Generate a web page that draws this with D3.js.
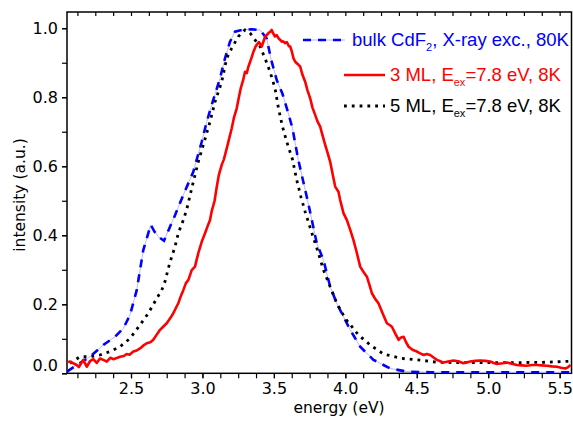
<!DOCTYPE html>
<html>
<head>
<meta charset="utf-8">
<script src="https://cdn.jsdelivr.net/npm/d3@7"></script>
<style>
  body { margin: 0; background: #fff; }
  .tick text { font-family: "DejaVu Sans", sans-serif; font-size: 16px; fill: #000; }
  .axistitle { font-family: "DejaVu Sans", sans-serif; font-size: 15.5px; fill: #000; }
  .legend { font-family: "Liberation Sans", Arial, sans-serif; font-size: 18.5px; }
</style>
</head>
<body>
<script>
// photoluminescence spectra, values

// bulk CdF2, X-ray excitation, 80K
var bulkE = [2.052, 2.12, 2.213, 2.306, 2.388, 2.446, 2.493, 2.54, 2.586, 2.621, 2.638, 2.665, 2.691, 2.731, 2.773, 2.808, 2.866, 2.936, 2.995, 3.03, 3.065, 3.123, 3.158, 3.193, 3.228, 3.275, 3.34, 3.403, 3.45, 3.48, 3.52, 3.56, 3.6, 3.63, 3.67, 3.742, 3.8, 3.847, 3.894, 3.94, 3.987, 4.034, 4.104, 4.197, 4.314, 4.43, 4.6, 4.8, 5.0, 5.2, 5.4, 5.58];
var bulkI = [0.005, 0.024, 0.048, 0.082, 0.106, 0.13, 0.169, 0.241, 0.357, 0.406, 0.43, 0.41, 0.396, 0.384, 0.425, 0.458, 0.517, 0.584, 0.671, 0.729, 0.778, 0.855, 0.913, 0.961, 0.99, 0.995, 0.997, 0.995, 0.97, 0.91, 0.85, 0.81, 0.755, 0.71, 0.62, 0.49, 0.377, 0.328, 0.251, 0.203, 0.164, 0.126, 0.077, 0.039, 0.014, 0.005, 0.003, 0.003, 0.003, 0.003, 0.003, 0.003];

// 3 ML, Eex = 7.8 eV, 8K
var ml3E = [2.06, 2.073, 2.12, 2.135, 2.166, 2.19, 2.213, 2.236, 2.26, 2.283, 2.31, 2.33, 2.355, 2.376, 2.40, 2.423, 2.45, 2.47, 2.49, 2.516, 2.54, 2.563, 2.585, 2.61, 2.635, 2.656, 2.68, 2.703, 2.725, 2.75, 2.775, 2.796, 2.815, 2.831, 2.85, 2.866, 2.885, 2.901, 2.925, 2.948, 2.96, 2.971, 2.995, 3.018, 3.035, 3.053, 3.065, 3.085, 3.1, 3.115, 3.135, 3.15, 3.17, 3.19, 3.205, 3.22, 3.24, 3.255, 3.268, 3.285, 3.298, 3.31, 3.322, 3.34, 3.357, 3.37, 3.38, 3.395, 3.415, 3.43, 3.438, 3.45, 3.462, 3.475, 3.485, 3.495, 3.508, 3.52, 3.532, 3.545, 3.555, 3.565, 3.578, 3.59, 3.605, 3.614, 3.626, 3.637, 3.649, 3.672, 3.684, 3.70, 3.719, 3.735, 3.754, 3.77, 3.789, 3.805, 3.824, 3.84, 3.859, 3.875, 3.894, 3.91, 3.929, 3.952, 3.964, 3.987, 4.011, 4.035, 4.057, 4.08, 4.104, 4.125, 4.151, 4.17, 4.186, 4.21, 4.232, 4.26, 4.291, 4.31, 4.326, 4.35, 4.373, 4.39, 4.408, 4.425, 4.443, 4.47, 4.501, 4.524, 4.548, 4.57, 4.594, 4.62, 4.641, 4.665, 4.687, 4.72, 4.757, 4.79, 4.827, 4.85, 4.874, 4.91, 4.944, 4.98, 5.014, 5.04, 5.061, 5.1, 5.131, 5.165, 5.201, 5.235, 5.271, 5.305, 5.341, 5.375, 5.411, 5.445, 5.481, 5.51, 5.54, 5.56, 5.577];
var ml3I = [0.032, 0.034, 0.024, 0.018, 0.039, 0.019, 0.035, 0.041, 0.03, 0.043, 0.038, 0.034, 0.045, 0.041, 0.044, 0.048, 0.05, 0.056, 0.054, 0.063, 0.066, 0.072, 0.08, 0.087, 0.09, 0.097, 0.112, 0.126, 0.135, 0.145, 0.16, 0.174, 0.19, 0.203, 0.225, 0.241, 0.262, 0.27, 0.299, 0.309, 0.33, 0.348, 0.381, 0.406, 0.425, 0.444, 0.47, 0.5, 0.54, 0.575, 0.604, 0.62, 0.652, 0.685, 0.71, 0.74, 0.768, 0.80, 0.826, 0.85, 0.874, 0.87, 0.889, 0.91, 0.932, 0.945, 0.952, 0.96, 0.947, 0.965, 0.976, 0.98, 0.986, 0.99, 0.995, 0.985, 0.976, 0.98, 0.971, 0.966, 0.961, 0.962, 0.957, 0.96, 0.948, 0.947, 0.932, 0.913, 0.903, 0.894, 0.889, 0.865, 0.845, 0.82, 0.797, 0.77, 0.749, 0.73, 0.715, 0.69, 0.662, 0.64, 0.613, 0.58, 0.541, 0.526, 0.502, 0.464, 0.444, 0.415, 0.386, 0.35, 0.309, 0.295, 0.28, 0.255, 0.232, 0.215, 0.203, 0.175, 0.145, 0.14, 0.135, 0.115, 0.097, 0.104, 0.106, 0.09, 0.077, 0.068, 0.063, 0.058, 0.053, 0.056, 0.053, 0.045, 0.039, 0.035, 0.031, 0.034, 0.037, 0.035, 0.029, 0.031, 0.034, 0.036, 0.037, 0.036, 0.034, 0.03, 0.027, 0.029, 0.031, 0.028, 0.024, 0.023, 0.022, 0.024, 0.024, 0.023, 0.022, 0.02, 0.019, 0.016, 0.014, 0.018, 0.024];

// 5 ML, Eex = 7.8 eV, 8K
var ml5E = [2.073, 2.143, 2.213, 2.283, 2.353, 2.423, 2.493, 2.563, 2.621, 2.68, 2.715, 2.738, 2.761, 2.785, 2.808, 2.831, 2.866, 2.89, 2.925, 2.971, 3.006, 3.053, 3.088, 3.135, 3.17, 3.205, 3.251, 3.298, 3.333, 3.368, 3.403, 3.438, 3.473, 3.508, 3.532, 3.56, 3.59, 3.63, 3.66, 3.69, 3.719, 3.766, 3.812, 3.847, 3.894, 3.94, 3.999, 4.046, 4.092, 4.174, 4.267, 4.396, 4.548, 4.641, 4.8, 5.0, 5.2, 5.4, 5.577];
var ml5I = [0.029, 0.048, 0.048, 0.053, 0.063, 0.077, 0.101, 0.14, 0.174, 0.217, 0.241, 0.266, 0.304, 0.338, 0.367, 0.406, 0.444, 0.475, 0.536, 0.613, 0.662, 0.729, 0.787, 0.845, 0.913, 0.942, 0.976, 0.995, 0.986, 0.966, 0.947, 0.913, 0.874, 0.826, 0.768, 0.715, 0.671, 0.62, 0.56, 0.51, 0.468, 0.406, 0.348, 0.299, 0.251, 0.203, 0.159, 0.135, 0.111, 0.082, 0.056, 0.043, 0.037, 0.032, 0.031, 0.031, 0.031, 0.032, 0.035];

var xTicks = [2.5, 3.0, 3.5, 4.0, 4.5, 5.0, 5.5];
var yTicks = [0.0, 0.2, 0.4, 0.6, 0.8, 1.0];

window.onload = function(){

    var w = 573, h = 421;
    var left = 67, right = 571.5, top = 12, bottom = 373.3;

    var x = d3.scaleLinear()
        .domain([2.052, 5.583])
        .range([left, right]);

    var y = d3.scaleLinear()
        .domain([0, 1.047])
        .range([bottom, top]);

    var svg = d3.select("body")
        .append("svg")
        .attr("width", w)
        .attr("height", h);

    // minor ticks every 0.125 eV on the bottom, every 0.1 on the left
    var xMinor = d3.range(2.125, 5.58, 0.125);
    var yMinor = d3.range(0, 1.001, 0.1);

    svg.append("g")
        .attr("transform", "translate(0," + bottom + ")")
        .call(d3.axisBottom(x).tickValues(xMinor).tickSize(5).tickFormat(""))
        .call(function(g){ g.select(".domain").remove(); });

    svg.append("g")
        .attr("transform", "translate(0," + bottom + ")")
        .call(d3.axisBottom(x).tickValues(xTicks).tickSize(5).tickPadding(4).tickFormat(d3.format(".1f")))
        .call(function(g){ g.select(".domain").remove(); });

    // top ticks, pointing into the frame
    svg.append("g")
        .attr("transform", "translate(0," + top + ")")
        .call(d3.axisBottom(x).tickValues(xMinor).tickSize(4).tickFormat(""))
        .call(function(g){ g.select(".domain").remove(); });

    svg.append("g")
        .attr("transform", "translate(" + left + ",0)")
        .call(d3.axisLeft(y).tickValues(yMinor).tickSize(5).tickFormat(""))
        .call(function(g){ g.select(".domain").remove(); });

    var yAxis = svg.append("g")
        .attr("transform", "translate(" + left + ",0)")
        .call(d3.axisLeft(y).tickValues(yTicks).tickSize(5).tickPadding(4).tickFormat(d3.format(".1f")))
        .call(function(g){ g.select(".domain").remove(); });

    // the 0.0 label sits a little above its tick
    yAxis.selectAll(".tick text")
        .filter(function(d){ return d === 0; })
        .attr("dy", "-0.2em");

    svg.selectAll(".tick line").attr("stroke", "#000").attr("stroke-width", 1.2);

    // frame
    svg.append("rect")
        .attr("x", left)
        .attr("y", top)
        .attr("width", right - left)
        .attr("height", bottom - top)
        .attr("fill", "none")
        .attr("stroke", "#000")
        .attr("stroke-width", 1.5);

    svg.append("clipPath").attr("id", "clip")
        .append("rect")
        .attr("x", left).attr("y", top)
        .attr("width", right - left).attr("height", bottom - top);

    function pts(es, is){
        return es.map(function(e, i){ return [e, is[i]]; });
    }

    var line = d3.line()
        .x(function(d){ return x(d[0]); })
        .y(function(d){ return y(d[1]); });

    var plot = svg.append("g").attr("clip-path", "url(#clip)");

    // faint line under the blue dashes
    plot.append("path")
        .datum(pts(bulkE, bulkI))
        .attr("d", line)
        .attr("fill", "none")
        .attr("stroke", "#b8b8ff")
        .attr("stroke-width", 1);

    plot.append("path")
        .datum(pts(bulkE, bulkI))
        .attr("d", line)
        .attr("fill", "none")
        .attr("stroke", "#0000ff")
        .attr("stroke-width", 2.6)
        .attr("stroke-dasharray", "8,7");

    plot.append("path")
        .datum(pts(ml5E, ml5I))
        .attr("d", line)
        .attr("fill", "none")
        .attr("stroke", "#000")
        .attr("stroke-width", 2.8)
        .attr("stroke-dasharray", "2.8,5");

    plot.append("path")
        .datum(pts(ml3E, ml3I))
        .attr("d", line)
        .attr("fill", "none")
        .attr("stroke", "#ff0000")
        .attr("stroke-width", 2.6)
        .attr("stroke-linejoin", "round");

    // axis titles
    svg.append("text")
        .attr("class", "axistitle")
        .attr("text-anchor", "middle")
        .attr("x", 339)
        .attr("y", 413)
        .text("energy (eV)");

    svg.append("text")
        .attr("class", "axistitle")
        .attr("text-anchor", "middle")
        .attr("transform", "translate(25,195) rotate(-90)")
        .text("intensity (a.u.)");

    // legend
    var legend = svg.append("g").attr("class", "legend");

    legend.append("line")
        .attr("x1", 303).attr("x2", 345).attr("y1", 40).attr("y2", 40)
        .attr("stroke", "#b8b8ff").attr("stroke-width", 1);
    legend.append("line")
        .attr("x1", 303).attr("x2", 345).attr("y1", 40).attr("y2", 40)
        .attr("stroke", "#0000ff").attr("stroke-width", 2.6)
        .attr("stroke-dasharray", "8,7");
    var t1 = legend.append("text").attr("x", 352).attr("y", 46).attr("fill", "#0000ff");
    t1.append("tspan").text("bulk CdF");
    t1.append("tspan").attr("font-size", "11px").attr("dy", 5).text("2");
    t1.append("tspan").attr("dy", -5).text(", X-ray exc., 80K");

    legend.append("line")
        .attr("x1", 344).attr("x2", 385).attr("y1", 75).attr("y2", 75)
        .attr("stroke", "#ff0000").attr("stroke-width", 2.6);
    var t2 = legend.append("text").attr("x", 390).attr("y", 81).attr("fill", "#ff0000");
    t2.append("tspan").text("3 ML, E");
    t2.append("tspan").attr("font-size", "11px").attr("dy", 5).text("ex");
    t2.append("tspan").attr("dy", -5).text("=7.8 eV, 8K");

    legend.append("line")
        .attr("x1", 344).attr("x2", 385).attr("y1", 106).attr("y2", 106)
        .attr("stroke", "#000").attr("stroke-width", 2.8)
        .attr("stroke-dasharray", "2.8,5");
    var t3 = legend.append("text").attr("x", 390).attr("y", 112).attr("fill", "#000");
    t3.append("tspan").text("5 ML, E");
    t3.append("tspan").attr("font-size", "11px").attr("dy", 5).text("ex");
    t3.append("tspan").attr("dy", -5).text("=7.8 eV, 8K");
};
</script>
</body>
</html>
